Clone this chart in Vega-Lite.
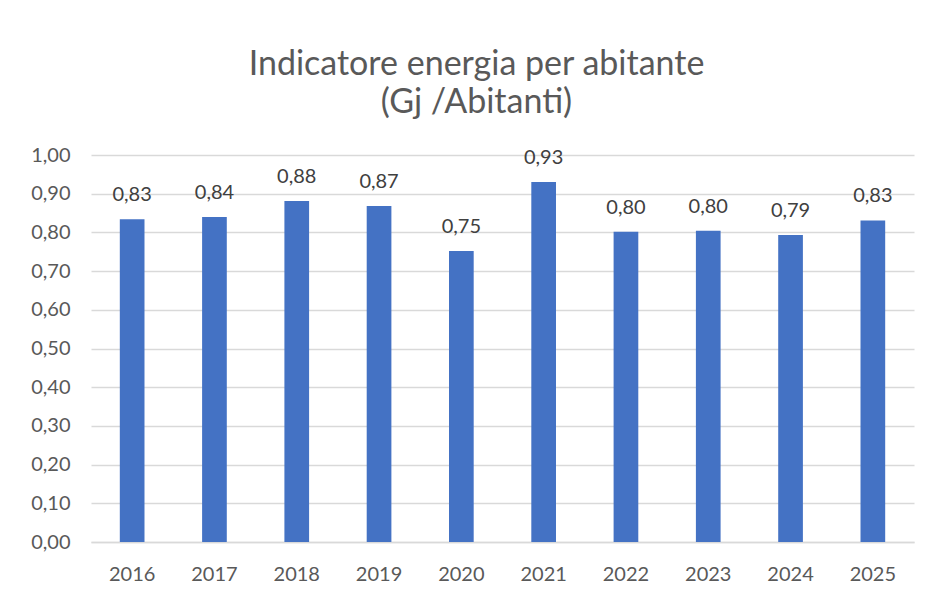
{
  "$schema": "https://vega.github.io/schema/vega-lite/v6.json",
  "width": 823,
  "height": 387,
  "autosize": "none",
  "padding": {"left": 91, "top": 155, "right": 18, "bottom": 52},
  "background": "white",
  "config": {
    "locale": {"number": {"decimal": ",", "thousands": ".", "grouping": [3], "currency": ["€", ""]}},
    "view": {"stroke": null},
    "font": "Lato"
  },
  "title": {
    "text": ["Indicatore energia per abitante", "(Gj /Abitanti)"],
    "anchor": "middle",
    "frame": "group",
    "dx": -26,
    "offset": 25,
    "font": "Lato",
    "fontSize": 34,
    "fontWeight": "normal",
    "color": "#595959",
    "lineHeight": 38
  },
  "data": {
    "values": [
      {"anno": "2016", "valore": 0.834},
      {"anno": "2017", "valore": 0.84},
      {"anno": "2018", "valore": 0.881},
      {"anno": "2019", "valore": 0.868},
      {"anno": "2020", "valore": 0.752},
      {"anno": "2021", "valore": 0.93},
      {"anno": "2022", "valore": 0.802},
      {"anno": "2023", "valore": 0.804},
      {"anno": "2024", "valore": 0.793},
      {"anno": "2025", "valore": 0.831}
    ]
  },
  "encoding": {
    "x": {
      "field": "anno",
      "type": "nominal",
      "scale": {"paddingInner": 0.7, "paddingOuter": 0.35},
      "axis": {
        "title": null,
        "labelAngle": 0,
        "labelFont": "Lato",
        "labelFontSize": 20,
        "labelColor": "#595959",
        "labelPadding": 22,
        "ticks": false,
        "domainColor": "#d9d9d9",
        "domainWidth": 1.5
      }
    },
    "y": {
      "field": "valore",
      "type": "quantitative",
      "scale": {"domain": [0, 1], "nice": false},
      "axis": {
        "title": null,
        "values": [0, 0.1, 0.2, 0.3, 0.4, 0.5, 0.6, 0.7, 0.8, 0.9, 1.0],
        "format": ".2f",
        "labelFont": "Lato",
        "labelFontSize": 20,
        "labelColor": "#595959",
        "labelPadding": 21,
        "ticks": false,
        "domain": false,
        "gridColor": "#d9d9d9",
        "gridWidth": 1.5
      }
    }
  },
  "layer": [
    {"mark": {"type": "bar", "color": "#4472C4"}},
    {
      "mark": {"type": "text", "baseline": "alphabetic", "dy": -18, "font": "Lato", "fontSize": 20, "color": "#404040"},
      "encoding": {"text": {"field": "valore", "type": "quantitative", "format": ".2f"}}
    }
  ]
}
